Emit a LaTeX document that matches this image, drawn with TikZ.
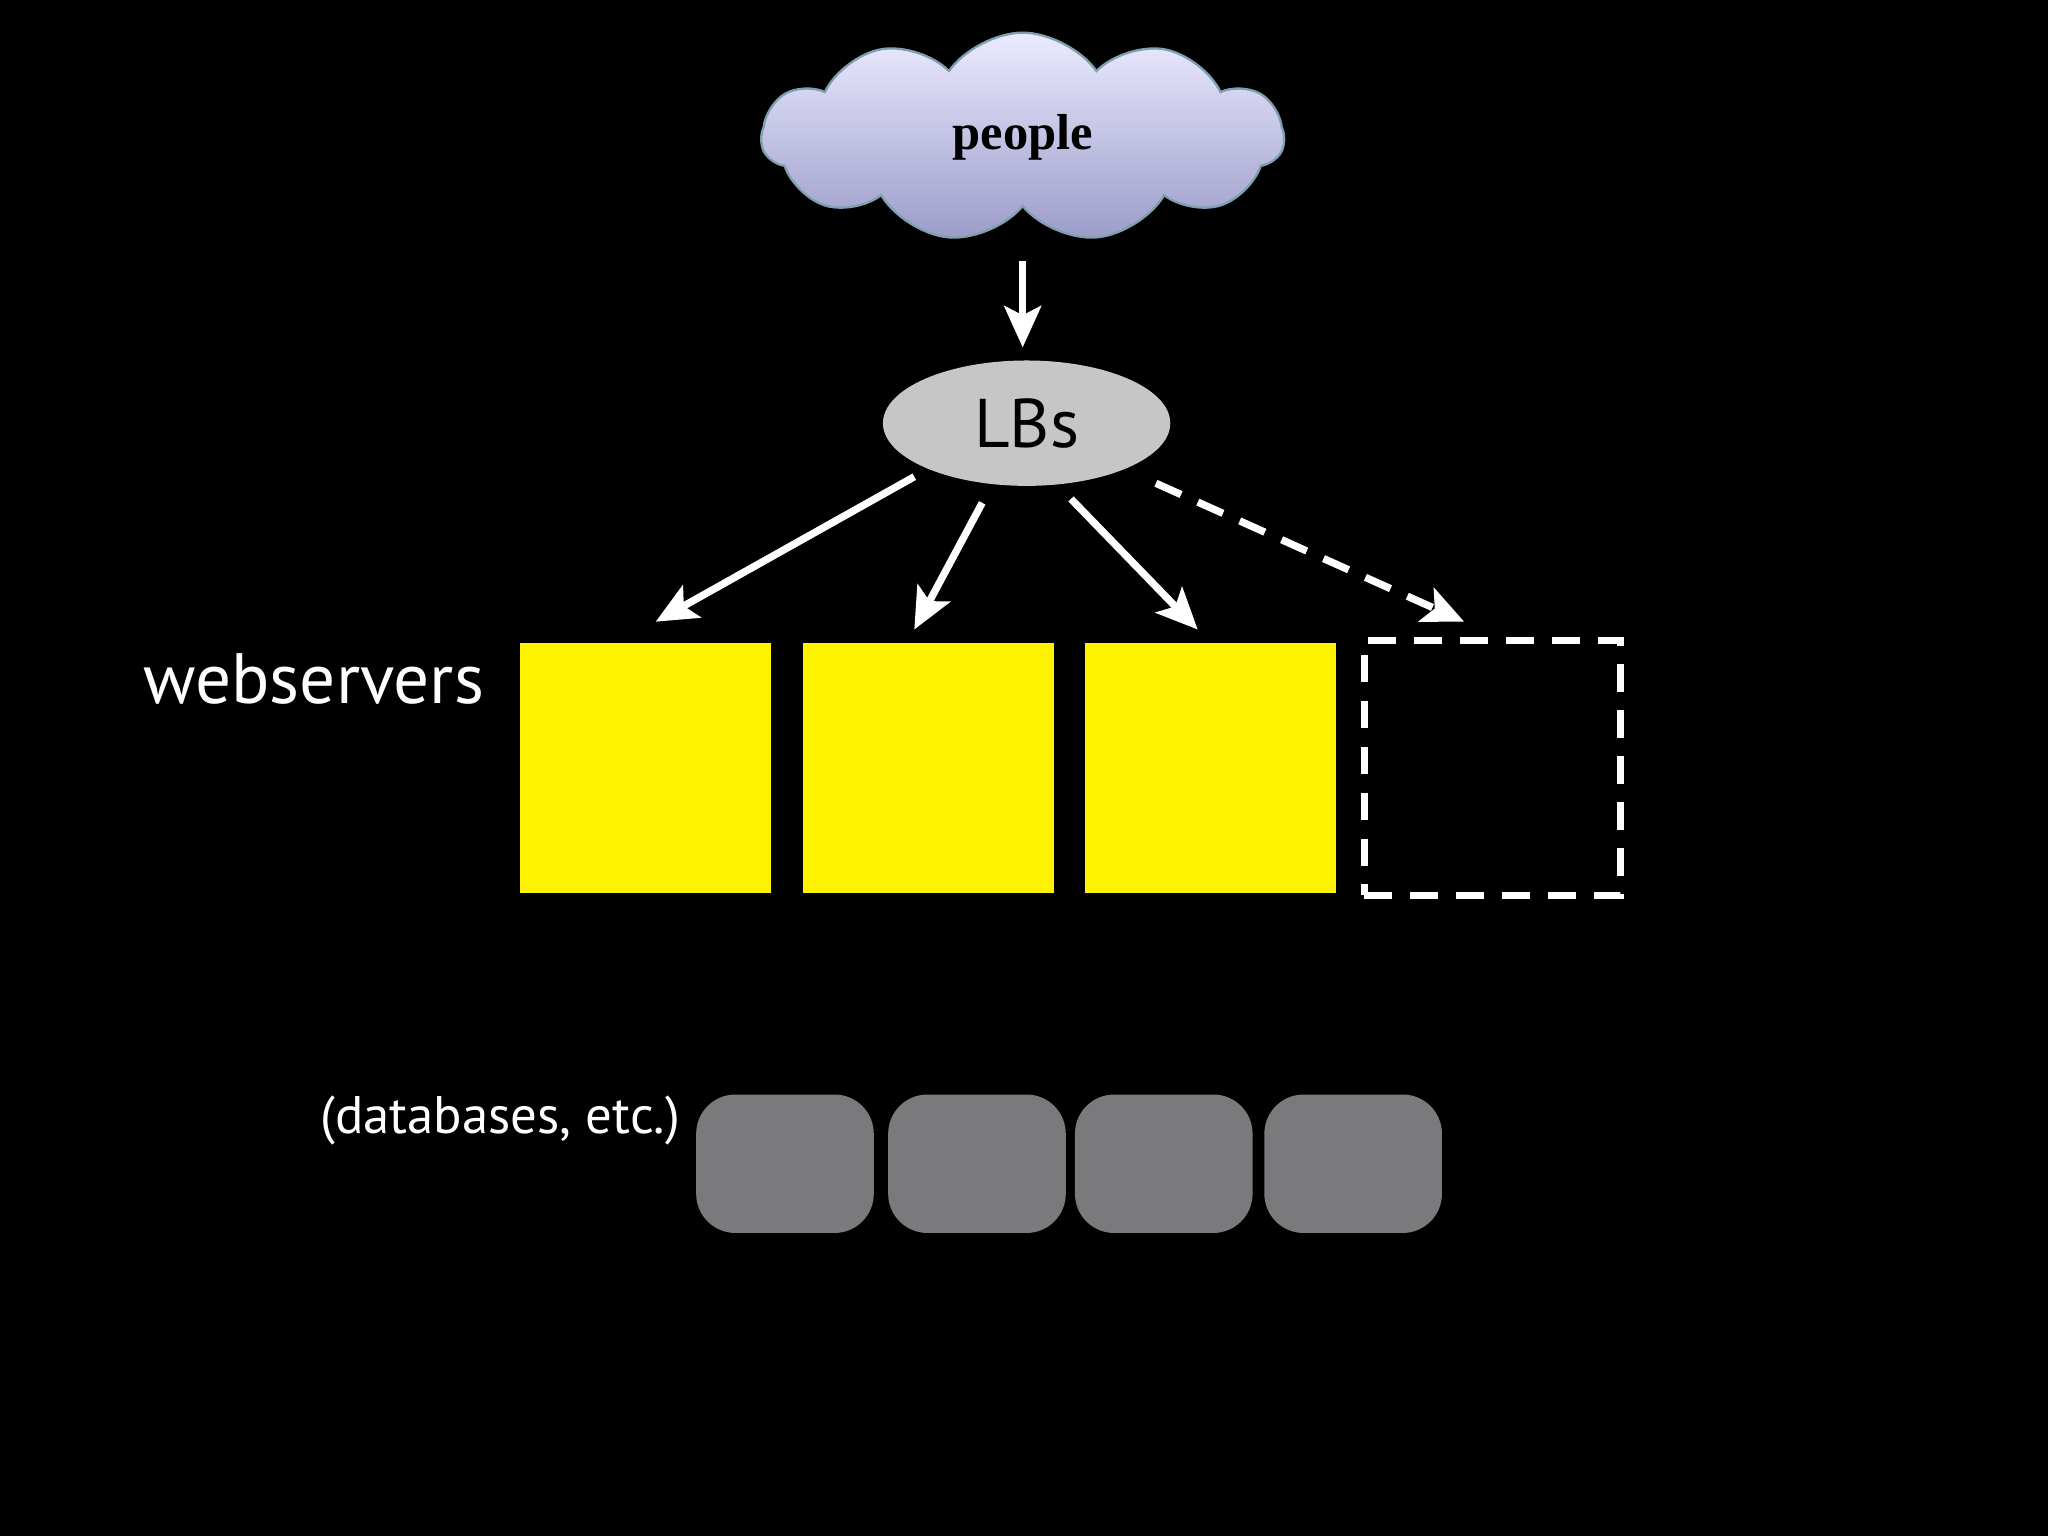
\documentclass[tikz,border=0pt]{standalone}
\usepackage{fontspec}
\setmainfont{PT Sans}
\usetikzlibrary{shapes.symbols,shapes.geometric,arrows.meta}
\begin{document}
\begin{tikzpicture}[x=0.01cm,y=-0.01cm,
  arr/.style={draw=white,line width=1.6pt,-{Stealth[length=9pt,width=8pt,inset=2pt]}},
  web/.style={fill=yellow,minimum width=192\pgflinewidth,inner sep=0pt},
  db/.style={fill=dbgray,rounded corners=22\pgflinewidth,inner sep=0pt}]
\definecolor{dbgray}{HTML}{7A797B}
\fill[black] (0,0) rectangle (1568,1176);
\node[cloud,cloud puffs=11,cloud puff arc=110,aspect=2.6,minimum width=400*0.01cm,minimum height=160*0.01cm,
  draw=cyan!30!gray,line width=0.5pt,top color=blue!8!white,bottom color=blue!30!gray!60!white,inner sep=0pt] (cloud) at (783,105) {};
\node[font=\fontspec{Liberation Serif}\bfseries\fontsize{11}{13}\selectfont] (ptxt) at (783,105) {people};
\coordinate (a0) at (783,200); \coordinate (a1) at (783,266);
\draw[arr] (a0) -- (a1);
\node[ellipse,fill=gray!45!white,minimum width=220*0.01cm,minimum height=96*0.01cm,
  font=\fontsize{15}{18}\selectfont] (lb) at (786,324) {LBs};
\coordinate (s1) at (700,365); \coordinate (t1) at (502,476);
\coordinate (s2) at (752,385); \coordinate (t2) at (700,482);
\coordinate (s3) at (820,382); \coordinate (t3) at (917,482);
\coordinate (s4) at (885,370); \coordinate (t4) at (1121,476);
\draw[arr] (s1) -- (t1);
\draw[arr] (s2) -- (t2);
\draw[arr] (s3) -- (t3);
\draw[arr,dash pattern=on 6pt off 4pt] (s4) -- (t4);
\node[fill=yellow,minimum width=192*0.01cm,minimum height=192*0.01cm,inner sep=0pt] (w1) at (494,588) {};
\node[fill=yellow,minimum width=192*0.01cm,minimum height=192*0.01cm,inner sep=0pt] (w2) at (711,588) {};
\node[fill=yellow,minimum width=192*0.01cm,minimum height=192*0.01cm,inner sep=0pt] (w3) at (927,588) {};
\node[draw=white,line width=1.6pt,dash pattern=on 6pt off 4pt,minimum width=196*0.01cm,minimum height=195*0.01cm,inner sep=0pt] (w4) at (1142.5,588) {};
\node[text=white,anchor=east,font=\fontsize{15.5}{18}\selectfont] (wl) at (383,520) {webservers};
\foreach \n/\x in {d1/601,d2/748,d3/891,d4/1036}{
  \node[fill=dbgray,rounded corners=0.3cm,minimum width=136*0.01cm,minimum height=106*0.01cm,inner sep=0pt] (\n) at (\x,891) {};
}
\node[text=white,anchor=east,font=\fontsize{11.5}{14}\selectfont] (dl) at (533,858) {(databases, etc.)};
\end{tikzpicture}
\end{document}
